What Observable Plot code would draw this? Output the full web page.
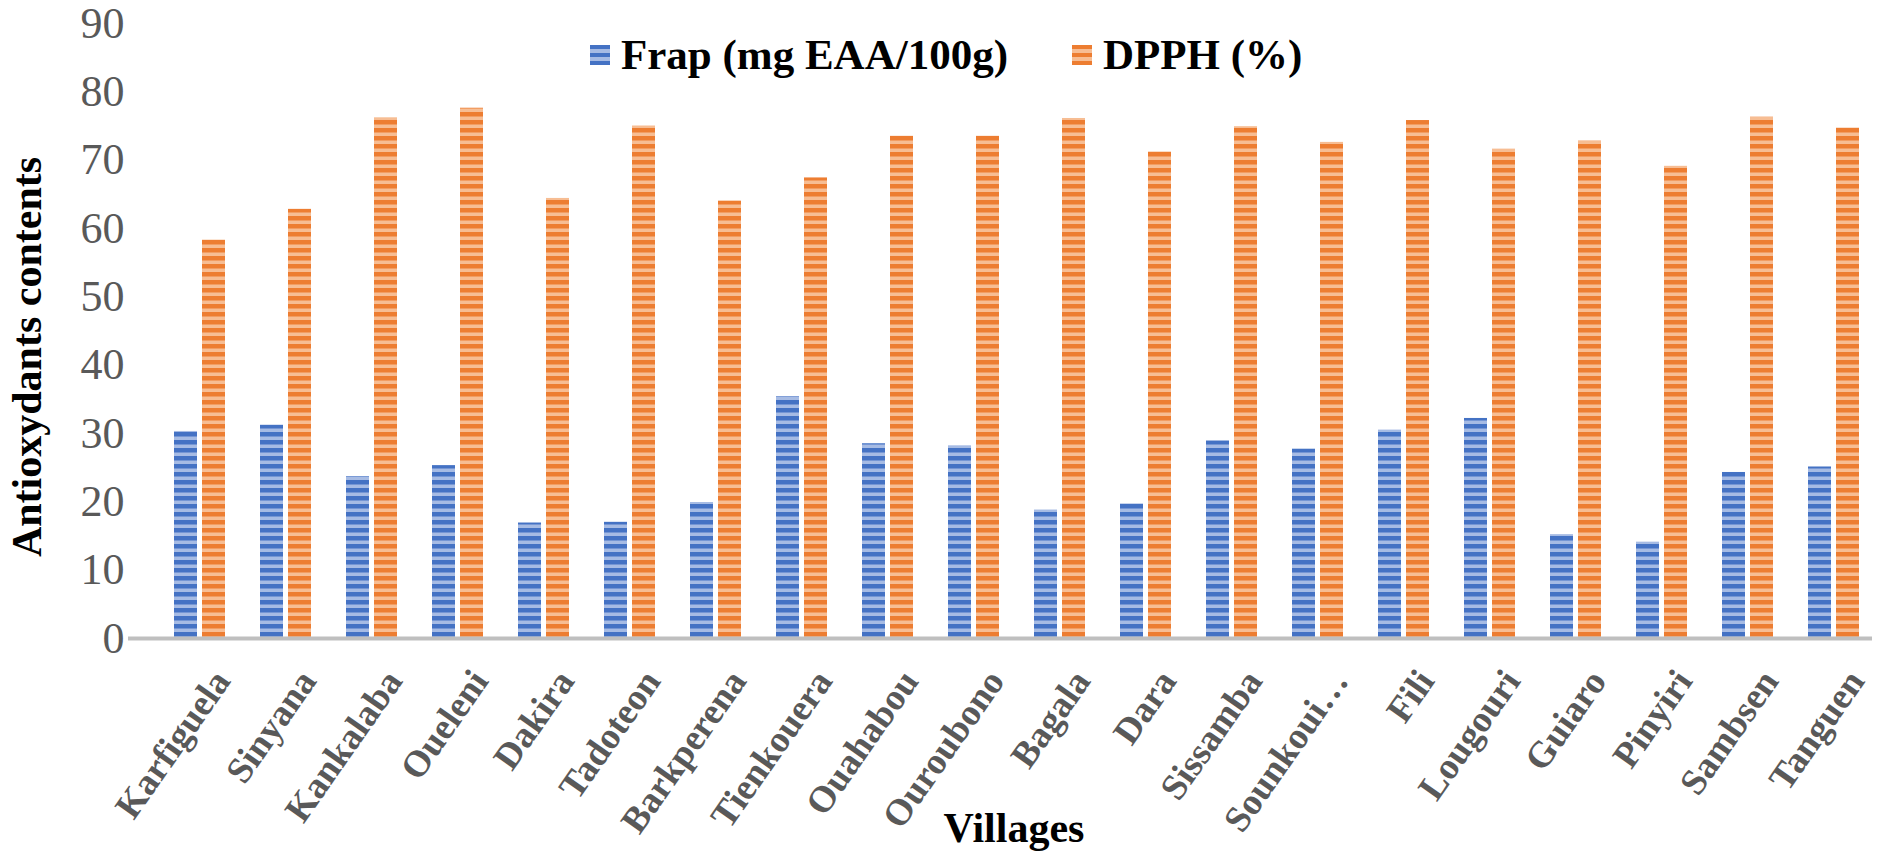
<!DOCTYPE html>
<html>
<head>
<meta charset="utf-8">
<script src="https://cdn.jsdelivr.net/npm/d3@7"></script>
<script src="https://cdn.jsdelivr.net/npm/@observablehq/plot@0.6"></script>
<style>
  html, body { margin: 0; padding: 0; background: #fff; }
  #wrap { position: relative; width: 1887px; height: 854px; overflow: hidden; font-family: "Liberation Serif", "Times New Roman", serif; }
  .legend-item { position: absolute; top: 30px; display: flex; align-items: center; font-weight: bold; font-size: 43px; color: #000; white-space: nowrap; }
  .swatch { width: 20px; height: 20px; margin-right: 11px; }
  .sw-blue { background: repeating-linear-gradient(to bottom, #4472C4 0px, #4472C4 4.5px, #A6BBE4 4.5px, #A6BBE4 8px); }
  .sw-orange { background: repeating-linear-gradient(to bottom, #ED7D31 0px, #ED7D31 4.5px, #F7BD93 4.5px, #F7BD93 8px); }
  .ytitle { position: absolute; left: 27px; top: 357px; transform: translate(-50%, -50%) rotate(-90deg); font-weight: bold; font-size: 42px; white-space: nowrap; color: #000; }
  .xtitle { position: absolute; left: 1014px; top: 828px; transform: translate(-50%, -50%); font-weight: bold; font-size: 42px; white-space: nowrap; color: #000; }
</style>
</head>
<body>
<div id="wrap"></div>
<script>
// ---- data ----
const villages = ["Karfiguela", "Sinyana", "Kankalaba", "Oueleni", "Dakira", "Tadoteon", "Barkperena", "Tienkouera", "Ouahabou", "Ouroubono", "Bagala", "Dara", "Sissamba", "Sounkoui…", "Fili", "Lougouri", "Guiaro", "Pinyiri", "Sambsen", "Tanguen"];
const frap = [30.3, 31.2, 23.7, 25.3, 16.9, 17.0, 19.9, 35.4, 28.5, 28.2, 18.8, 19.7, 28.9, 27.7, 30.5, 32.2, 15.2, 14.1, 24.3, 25.1];
const dpph = [58.3, 62.8, 76.2, 77.6, 64.4, 75.0, 64.0, 67.4, 73.5, 73.5, 76.1, 71.2, 74.9, 72.6, 75.8, 71.6, 72.8, 69.1, 76.3, 74.7];
const seriesNames = ["Frap (mg EAA/100g)", "DPPH (%)"];
const yTicks = [0, 10, 20, 30, 40, 50, 60, 70, 80, 90];

const frapRows = villages.map((v, i) => ({village: v, series: seriesNames[0], value: frap[i]}));
const dpphRows = villages.map((v, i) => ({village: v, series: seriesNames[1], value: dpph[i]}));

const chart = Plot.plot({
  width: 1887,
  height: 854,
  marginLeft: 128,
  marginRight: 15,
  marginTop: 23,
  marginBottom: 216,
  style: {fontFamily: "Liberation Serif, Times New Roman, serif", fontSize: "37px", background: "white", color: "#595959"},
  x: {domain: villages, range: [157, 1877], paddingInner: 0.404, paddingOuter: 0.202, label: null, tickSize: 0, tickRotate: -55, tickPadding: 36},
  y: {domain: [0, 90], ticks: yTicks, tickSize: 0, tickPadding: 4, label: null},
  marks: [
    Plot.barY(frapRows, {x: "village", y: "value", fill: "url(#stripeBlue)", insetRight: 28}),
    Plot.barY(dpphRows, {x: "village", y: "value", fill: "url(#stripeOrange)", insetLeft: 28}),
    Plot.ruleY([0], {stroke: "#BFBFBF", strokeWidth: 4})
  ]
});

// stripe patterns
const svg = d3.select(chart);
const defs = svg.insert("defs", ":first-child");
function stripe(id, dark, light) {
  const p = defs.append("pattern").attr("id", id).attr("patternUnits", "userSpaceOnUse")
    .attr("width", 10).attr("height", 8);
  p.append("rect").attr("width", 10).attr("height", 8).attr("fill", light);
  p.append("rect").attr("width", 10).attr("height", 4.5).attr("fill", dark);
}
stripe("stripeBlue", "#4472C4", "#A6BBE4");
stripe("stripeOrange", "#ED7D31", "#F7BD93");

// axis styling
svg.selectAll('[aria-label^="x-axis"]').each(function() {
  const t = this.getAttribute("transform") || "";
  this.setAttribute("transform", "translate(22,0) " + t);
});
svg.selectAll('[aria-label^="x-axis"] text').attr("font-weight", "bold").attr("font-size", 37).attr("fill", "#595959");
svg.selectAll('[aria-label^="y-axis"] text').attr("font-size", 44).attr("fill", "#595959");

const wrap = document.getElementById("wrap");
wrap.appendChild(chart);

// legend + titles
const leg1 = document.createElement("div");
leg1.className = "legend-item"; leg1.style.left = "590px";
leg1.innerHTML = '<div class="swatch sw-blue"></div><span></span>';
leg1.querySelector("span").textContent = seriesNames[0];
const leg2 = document.createElement("div");
leg2.className = "legend-item"; leg2.style.left = "1072px";
leg2.innerHTML = '<div class="swatch sw-orange"></div><span></span>';
leg2.querySelector("span").textContent = seriesNames[1];
const yt = document.createElement("div"); yt.className = "ytitle"; yt.textContent = "Antioxydants contents";
const xt = document.createElement("div"); xt.className = "xtitle"; xt.textContent = "Villages";
[leg1, leg2, yt, xt].forEach(el => wrap.appendChild(el));
</script>
</body>
</html>
